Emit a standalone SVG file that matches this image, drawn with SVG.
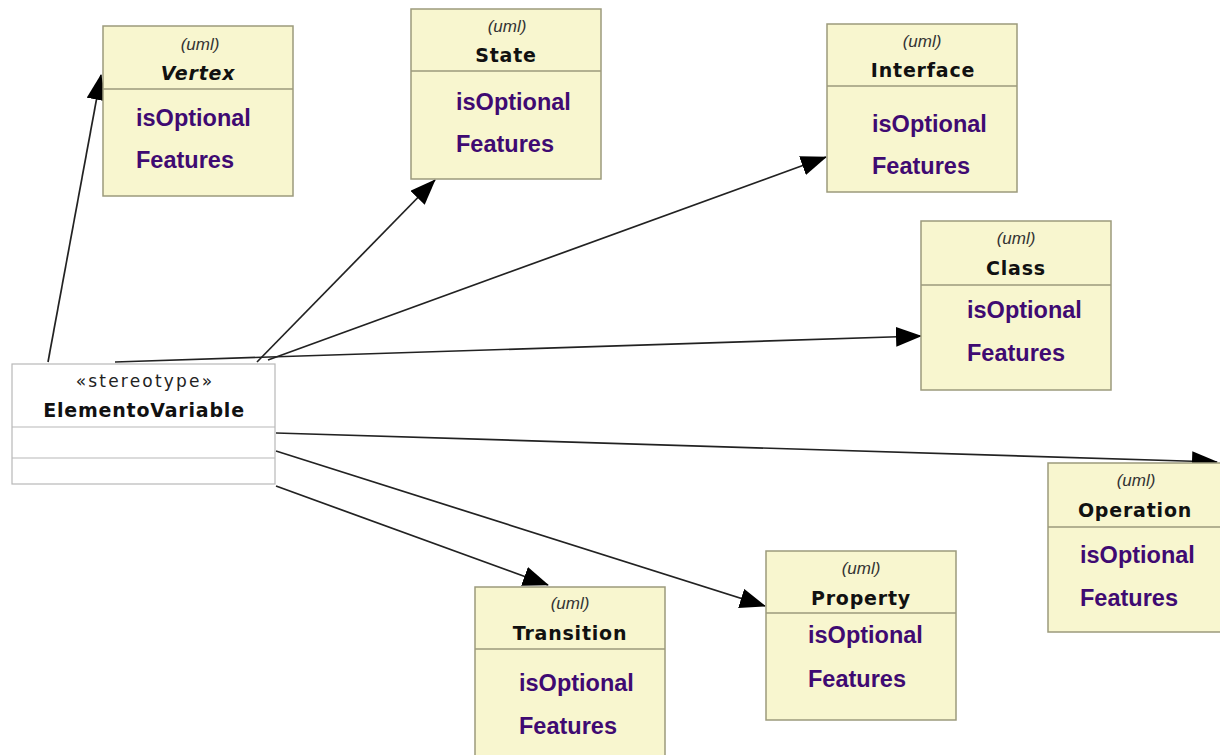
<svg xmlns="http://www.w3.org/2000/svg" width="1220" height="755" viewBox="0 0 1220 755">
<style>
.box{fill:#f8f6cf;stroke:#9c9a7c;stroke-width:1.5}
.div{stroke:#9c9a7c;stroke-width:1.5}
.ebox{fill:#fff;stroke:#b8b8b8;stroke-width:1.2}
.ediv{stroke:#b8b8b8;stroke-width:1.2}
.uml{font-family:"Liberation Sans",Arial,sans-serif;font-size:17px;font-style:italic;fill:#333;text-anchor:middle}
.ttl{font-family:"DejaVu Sans",Verdana,sans-serif;font-size:19px;font-weight:bold;fill:#111;text-anchor:middle;letter-spacing:0.8px}
.att{font-family:"Liberation Sans",Arial,sans-serif;font-size:23.5px;font-weight:bold;fill:#3f0a72}
.ster{font-family:"DejaVu Sans",Verdana,sans-serif;font-size:17px;fill:#222;text-anchor:middle;letter-spacing:2.2px}
.edge{stroke:#222;stroke-width:1.7;fill:none;marker-end:url(#ah)}
</style>
<defs>
<marker id="ah" markerWidth="26" markerHeight="20" refX="25" refY="10" orient="auto" markerUnits="userSpaceOnUse">
<path d="M0,0 L26,10 L0,20 Z" fill="#000"/>
</marker>
</defs>
<rect width="1220" height="755" fill="#fff"/>
<g id="connectors">
<line class="edge" x1="48" y1="362" x2="101" y2="75"/>
<line class="edge" x1="257" y1="362" x2="435" y2="180"/>
<line class="edge" x1="268" y1="360" x2="826" y2="157"/>
<line class="edge" x1="115" y1="362" x2="921" y2="336"/>
<line class="edge" x1="276" y1="433" x2="1217" y2="462"/>
<line class="edge" x1="276" y1="451" x2="765" y2="606"/>
<line class="edge" x1="276" y1="486" x2="548" y2="585"/>
</g>
<g id="ElementoVariable">
<rect class="ebox" x="12" y="364" width="263" height="120"/>
<line class="ediv" x1="12" y1="427" x2="275" y2="427"/>
<line class="ediv" x1="12" y1="458" x2="275" y2="458"/>
<text class="ster" x="145" y="387">«stereotype»</text>
<text class="ttl" x="144" y="417">ElementoVariable</text>
</g>
<g id="Vertex">
<rect class="box" x="103" y="26" width="190" height="170"/>
<line class="div" x1="103" y1="89" x2="293" y2="89"/>
<text class="uml" x="200" y="50">(uml)</text>
<text class="ttl" x="198" y="80" font-style="italic">Vertex</text>
<text class="att" x="136" y="126">isOptional</text>
<text class="att" x="136" y="168">Features</text>
</g>
<g id="State">
<rect class="box" x="411" y="9" width="190" height="170"/>
<line class="div" x1="411" y1="71" x2="601" y2="71"/>
<text class="uml" x="507" y="32">(uml)</text>
<text class="ttl" x="506" y="62">State</text>
<text class="att" x="456" y="110">isOptional</text>
<text class="att" x="456" y="152">Features</text>
</g>
<g id="Interface">
<rect class="box" x="827" y="24" width="190" height="168"/>
<line class="div" x1="827" y1="86" x2="1017" y2="86"/>
<text class="uml" x="922" y="47">(uml)</text>
<text class="ttl" x="923" y="77">Interface</text>
<text class="att" x="872" y="132">isOptional</text>
<text class="att" x="872" y="174">Features</text>
</g>
<g id="Class">
<rect class="box" x="921" y="221" width="190" height="169"/>
<line class="div" x1="921" y1="285" x2="1111" y2="285"/>
<text class="uml" x="1016" y="244">(uml)</text>
<text class="ttl" x="1016" y="275">Class</text>
<text class="att" x="967" y="318">isOptional</text>
<text class="att" x="967" y="361">Features</text>
</g>
<g id="Operation">
<rect class="box" x="1048" y="463" width="180" height="169"/>
<line class="div" x1="1048" y1="527" x2="1220" y2="527"/>
<text class="uml" x="1136" y="486">(uml)</text>
<text class="ttl" x="1135" y="517">Operation</text>
<text class="att" x="1080" y="563">isOptional</text>
<text class="att" x="1080" y="606">Features</text>
</g>
<g id="Property">
<rect class="box" x="766" y="551" width="190" height="169"/>
<line class="div" x1="766" y1="613" x2="956" y2="613"/>
<text class="uml" x="861" y="574">(uml)</text>
<text class="ttl" x="861" y="605">Property</text>
<text class="att" x="808" y="643">isOptional</text>
<text class="att" x="808" y="687">Features</text>
</g>
<g id="Transition">
<rect class="box" x="475" y="587" width="190" height="175"/>
<line class="div" x1="475" y1="649" x2="665" y2="649"/>
<text class="uml" x="570" y="609">(uml)</text>
<text class="ttl" x="570" y="640">Transition</text>
<text class="att" x="519" y="691">isOptional</text>
<text class="att" x="519" y="734">Features</text>
</g>
</svg>
